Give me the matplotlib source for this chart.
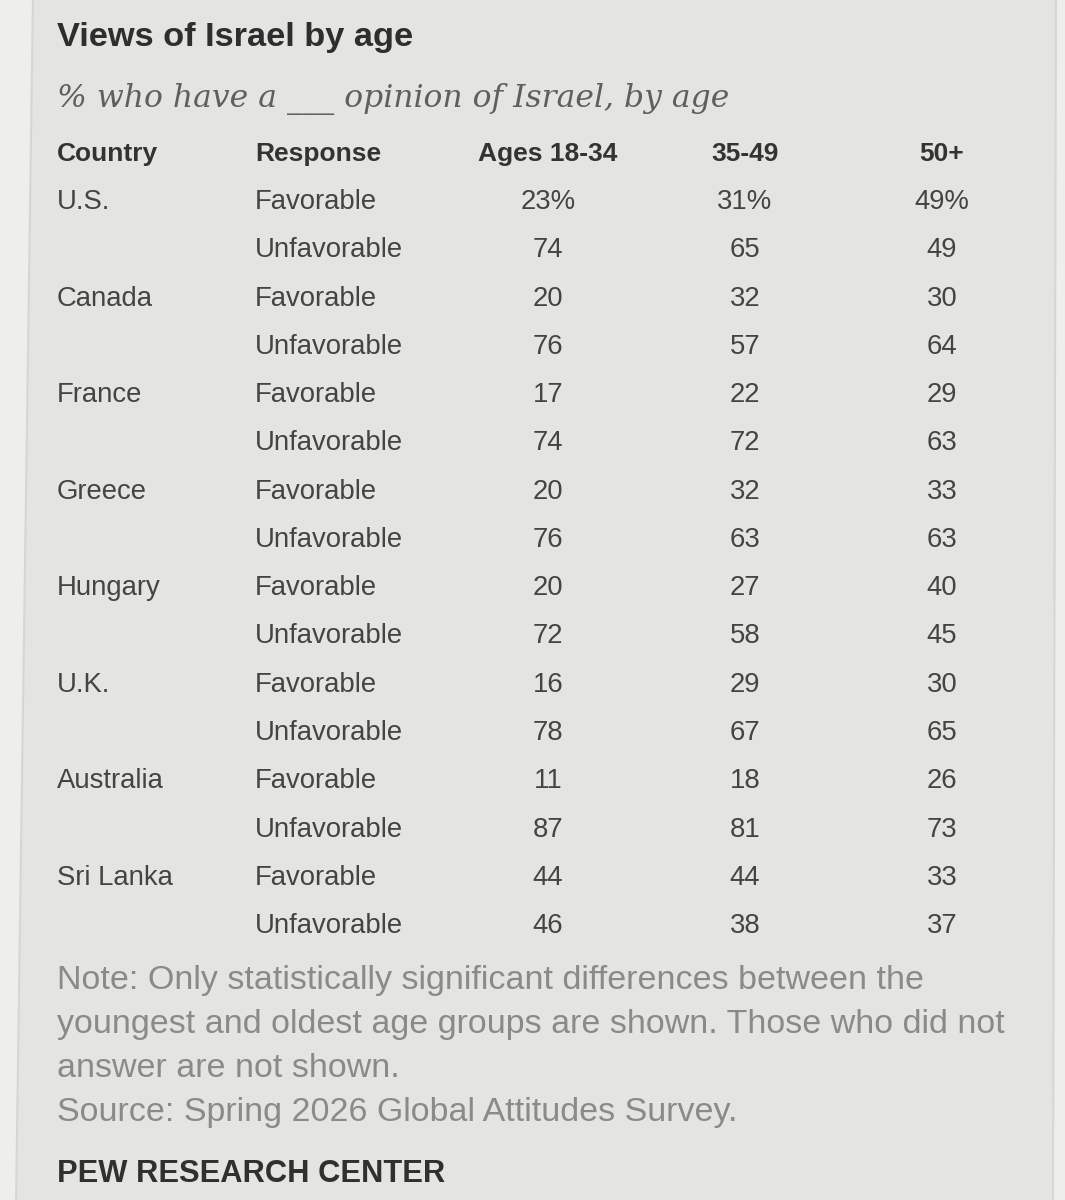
import matplotlib
matplotlib.use("Agg")
import matplotlib.pyplot as plt
from matplotlib.patches import Polygon

countries = ["U.S.", "Canada", "France", "Greece", "Hungary", "U.K.", "Australia", "Sri Lanka"]
responses = ["Favorable", "Unfavorable"]
age_groups = ["Ages 18-34", "35-49", "50+"]
favorable = [[23, 31, 49], [20, 32, 30], [17, 22, 29], [20, 32, 33],
             [20, 27, 40], [16, 29, 30], [11, 18, 26], [44, 44, 33]]
unfavorable = [[74, 65, 49], [76, 57, 64], [74, 72, 63], [76, 63, 63],
               [72, 58, 45], [78, 67, 65], [87, 81, 73], [46, 38, 37]]

title = "Views of Israel by age"
subtitle = "% who have a ___ opinion of Israel, by age"
note_lines = ["Note: Only statistically significant differences between the",
              "youngest and oldest age groups are shown. Those who did not",
              "answer are not shown.",
              "Source: Spring 2026 Global Attitudes Survey."]
credit = "PEW RESEARCH CENTER"

W, H = 1065, 1200
fig = plt.figure(figsize=(W / 100, H / 100), dpi=100)
fig.patch.set_facecolor("#eeeeec")
ax = fig.add_axes([0, 0, 1, 1])
ax.set_xlim(0, W)
ax.set_ylim(H, 0)
ax.axis("off")

# grey card, slightly skewed like the photographed original
ax.add_patch(Polygon([(33, -5), (1056, -5), (1053, H + 5), (16, H + 5)],
                     closed=True, facecolor="#e4e4e0", edgecolor="#d6d6d2", lw=1.5))

renderer = fig.canvas.get_renderer()


def fit_size(s, width_px, **kw):
    t = ax.text(0, 0, s, fontsize=20, **kw)
    w = t.get_window_extent(renderer).width
    t.remove()
    return 20 * width_px / w


sans = "Liberation Sans"
narrow = ["Liberation Sans Narrow", "Liberation Sans"]

title_fs = fit_size(title, 356, family=sans, weight="bold")
sub_fs = fit_size(subtitle, 671, family="DejaVu Serif", style="italic")
head_fs = fit_size("Country", 101, family=sans, weight="bold")
body_fs = fit_size("Favorable", 122, family=sans)
note_fs = fit_size(note_lines[0], 862, family=narrow)
credit_fs = fit_size(credit, 388, family=narrow, weight="bold")

x_country, x_resp = 57, 255
x_cols = [548, 745, 942]

ax.text(x_country, 46, title, fontsize=title_fs, family=sans, weight="bold",
        color="#2e2e2e", va="baseline")
ax.text(x_country, 107, subtitle, fontsize=sub_fs, family="DejaVu Serif",
        style="italic", color="#5f5f5f", va="baseline")

# header row
y_head = 161
ax.text(x_country, y_head, "Country", fontsize=head_fs, family=sans, weight="bold",
        color="#333333", va="baseline")
ax.text(x_resp, y_head, "Response", fontsize=head_fs, family=sans, weight="bold",
        color="#333333", va="baseline")
for x, lab in zip(x_cols, age_groups):
    ax.text(x, y_head, lab, fontsize=head_fs, family=sans, weight="bold",
            color="#333333", va="baseline", ha="center")

# body rows
y0, dy = 209, 48.27
body_col = "#444444"
row = 0
for i, c in enumerate(countries):
    for resp, vals in zip(responses, [favorable[i], unfavorable[i]]):
        y = y0 + row * dy
        if resp == "Favorable":
            ax.text(x_country, y, c, fontsize=body_fs, family=sans, color=body_col,
                    va="baseline")
        ax.text(x_resp, y, resp, fontsize=body_fs, family=sans, color=body_col,
                va="baseline")
        for x, v in zip(x_cols, vals):
            s = f"{v}%" if row == 0 else str(v)
            ax.text(x, y, s, fontsize=body_fs, family=sans, color=body_col,
                    va="baseline", ha="center")
        row += 1

# notes
for k, line in enumerate(note_lines):
    ax.text(x_country, 989 + k * 44, line, fontsize=note_fs, family=narrow,
            color="#8a8a8a", va="baseline")
ax.text(x_country, 1182, credit, fontsize=credit_fs, family=narrow, weight="bold",
        color="#303030", va="baseline")

fig.savefig("out.png", dpi=100, facecolor=fig.get_facecolor())
